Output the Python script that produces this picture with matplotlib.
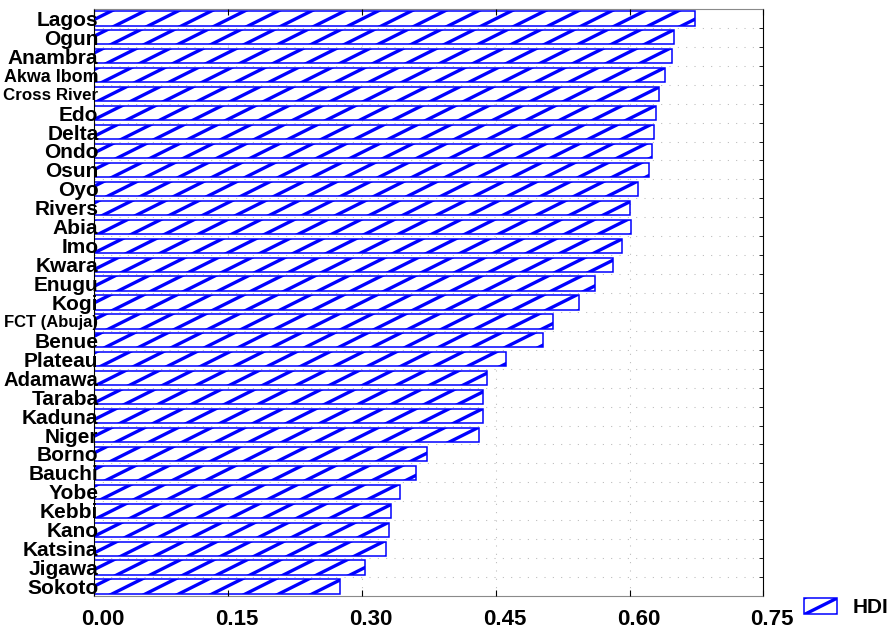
import numpy as np
import matplotlib
matplotlib.use("Agg")
import matplotlib.pyplot as plt
import matplotlib.hatch as mhatch
from matplotlib.path import Path
from matplotlib.ticker import FixedLocator
from matplotlib.transforms import ScaledTranslation

OUTPUT_FILE = "out.png"

STATES = [
    "Lagos", "Ogun", "Anambra", "Akwa Ibom", "Cross River", "Edo", "Delta",
    "Ondo", "Osun", "Oyo", "Rivers", "Abia", "Imo", "Kwara", "Enugu", "Kogi",
    "FCT (Abuja)", "Benue", "Plateau", "Adamawa", "Taraba", "Kaduna", "Niger",
    "Borno", "Bauchi", "Yobe", "Kebbi", "Kano", "Katsina", "Jigawa", "Sokoto",
]
HDI = [
    0.673, 0.650, 0.648, 0.640, 0.633, 0.630, 0.627,
    0.625, 0.622, 0.610, 0.601, 0.602, 0.592, 0.582, 0.561, 0.543,
    0.514, 0.503, 0.462, 0.440, 0.436, 0.436, 0.431,
    0.373, 0.361, 0.343, 0.333, 0.330, 0.327, 0.304, 0.276,
]
X_TICKS = [0.00, 0.15, 0.30, 0.45, 0.60, 0.75]
SERIES_NAME = "HDI"

BLUE = "#0000ff"
GRID = "#b8b8b8"
LABEL_SIZE = 15
LABEL_ROOM_PX = 95  # space left of the axes for the state names


class ShallowHatch(mhatch.HatchPatternBase):
    # the original export draws '/' much flatter than 45 deg
    def __init__(self, hatch, density):
        self.num_lines = int(hatch.count("/") * density)
        self.offsets = np.arange(-(self.num_lines // 2), self.num_lines + 1) / max(self.num_lines, 1)
        self.num_vertices = len(self.offsets) * 2 if self.num_lines else 0

    def set_vertices_and_codes(self, vertices, codes):
        x0, x1 = -0.1, 1.1
        vertices[0::2, 0] = x0
        vertices[0::2, 1] = 0.5 * x0 + self.offsets
        vertices[1::2, 0] = x1
        vertices[1::2, 1] = 0.5 * x1 + self.offsets
        codes[0::2] = Path.MOVETO
        codes[1::2] = Path.LINETO


mhatch._hatch_types[mhatch._hatch_types.index(mhatch.NorthEastHatch)] = ShallowHatch

plt.rcParams["font.family"] = ["Liberation Sans", "DejaVu Sans"]
plt.rcParams["hatch.linewidth"] = 2.4
plt.rcParams["hatch.color"] = BLUE


def fit_state_labels(fig, ax):
    # the original squeezes long names into the margin; shrink them instead
    fig.canvas.draw()
    renderer = fig.canvas.get_renderer()
    for lbl in ax.get_yticklabels():
        width = lbl.get_window_extent(renderer).width
        if width > LABEL_ROOM_PX:
            lbl.set_fontsize(LABEL_SIZE * LABEL_ROOM_PX / width)


def main():
    fig = plt.figure(figsize=(8.91, 6.32), dpi=100)
    ax = fig.add_axes([0.1058, 0.0570, 0.7509, 0.9288])

    y = np.arange(len(STATES))
    boundaries = y[:-1] + 0.5

    # grid drawn by hand so it stays under the bars while the names sit on top
    dotted = dict(color=GRID, linestyle=(0, (1, 7)), linewidth=0.75, zorder=1)
    for v in X_TICKS[1:-1]:
        ax.axvline(v, **dotted)
    for b in boundaries:
        ax.axhline(b, **dotted)

    ax.barh(y, HDI, height=0.75, color="white", edgecolor=BLUE,
            linewidth=1.1, hatch="/", label=SERIES_NAME, zorder=2)
    ax.set_axisbelow(False)

    ax.set_xlim(0, 0.75)
    ax.set_ylim(len(STATES) - 0.5, -0.5)

    ax.set_xticks(X_TICKS)
    ax.set_xticklabels([f"{v:.2f}" for v in X_TICKS], fontsize=16, fontweight="bold")
    ax.set_yticks(y)
    ax.set_yticklabels(STATES, fontsize=LABEL_SIZE, fontweight="bold")
    ax.yaxis.set_minor_locator(FixedLocator(boundaries))

    ax.tick_params(axis="x", direction="in", top=True, length=4, pad=9.5)
    ax.tick_params(axis="y", which="major", length=0, pad=-3)
    ax.tick_params(axis="y", which="minor", direction="in", left=False,
                   right=True, length=3)

    # labels in the original sit a little right of their ticks
    shift = ScaledTranslation(9 / 100, 0, fig.dpi_scale_trans)
    for lbl in ax.get_xticklabels():
        lbl.set_transform(lbl.get_transform() + shift)

    for side in ["top", "bottom"]:
        ax.spines[side].set_color("#8a8a8a")
    for side in ["left", "right"]:
        ax.spines[side].set_color("black")

    fig.legend(loc="center left", bbox_to_anchor=(0.9027, 0.0385),
               frameon=False, borderpad=0, borderaxespad=0,
               prop={"size": 15, "weight": "bold"},
               handlelength=1.55, handleheight=0.8, handletextpad=0.77)

    fit_state_labels(fig, ax)
    fig.savefig(OUTPUT_FILE, dpi=100)
    plt.close(fig)


if __name__ == "__main__":
    main()
